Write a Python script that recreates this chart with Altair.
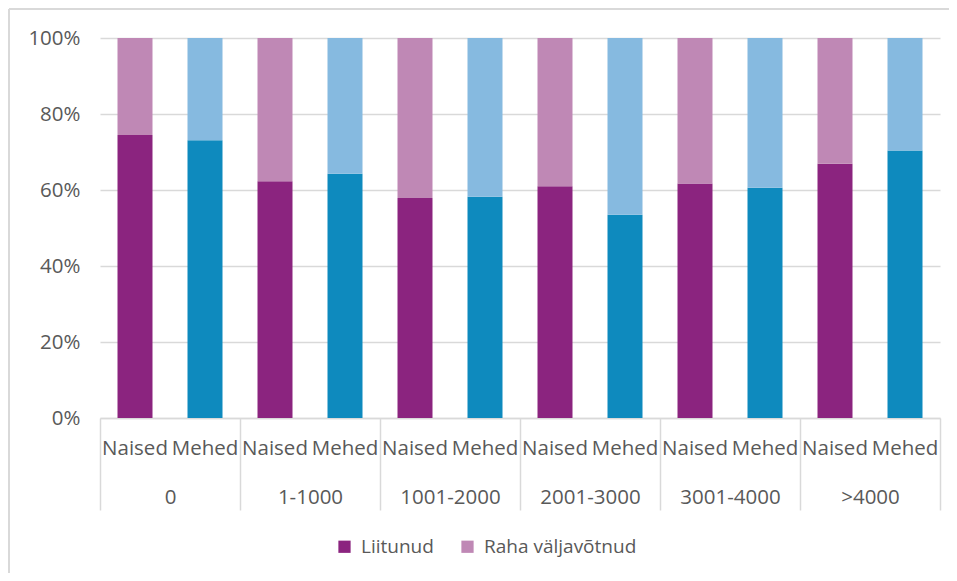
import altair as alt
import pandas as pd

groups = ["0", "1-1000", "1001-2000", "2001-3000", "3001-4000", ">4000"]
sexes = ["Naised", "Mehed"]
statuses = ["Liitunud", "Raha väljavõtnud"]

# share of "Liitunud" (%) per group
liitunud_naised = [74.5, 62.3, 57.9, 61.0, 61.7, 66.9]
liitunud_mehed = [73.1, 64.3, 58.2, 53.5, 60.6, 70.4]

colors = {
    "Naised|Liitunud": "#8B247F",
    "Naised|Raha väljavõtnud": "#BF88B5",
    "Mehed|Liitunud": "#0E8ABE",
    "Mehed|Raha väljavõtnud": "#86BAE0",
}

rows = []
for g, n, m in zip(groups, liitunud_naised, liitunud_mehed):
    rows.append({"group": g, "sex": "Naised", "Liitunud": n, "Raha väljavõtnud": 100 - n})
    rows.append({"group": g, "sex": "Mehed", "Liitunud": m, "Raha väljavõtnud": 100 - m})
df = pd.DataFrame(rows)

FONT = "Open Sans"
GRAY = "#595959"
LINE = "#D9D9D9"
FS = 20.5

x_enc = alt.X(
    "group:N",
    sort=groups,
    scale=alt.Scale(paddingInner=0, paddingOuter=0),
    axis=alt.Axis(
        title=None,
        labelAngle=0,
        labelFont=FONT,
        labelFontSize=FS,
        labelColor=GRAY,
        labelPadding=-23,
        tickBand="extent",
        tickSize=92,
        tickColor=LINE,
        tickWidth=1.5,
        domainColor=LINE,
        domainWidth=1.5,
        grid=False,
    ),
)
xoff_enc = alt.XOffset("sex:N", sort=sexes, scale=alt.Scale(paddingInner=0.5, paddingOuter=0.25))

bars = (
    alt.Chart(df)
    .transform_fold(statuses, as_=["status", "value"])
    .transform_calculate(key="datum.sex + '|' + datum.status",
                         ord="datum.status == 'Liitunud' ? 0 : 1")
    .mark_bar()
    .encode(
        x=x_enc,
        xOffset=xoff_enc,
        y=alt.Y(
            "value:Q",
            stack="zero",
            scale=alt.Scale(domain=[0, 100], nice=False),
            axis=alt.Axis(
                title=None,
                values=[0, 20, 40, 60, 80, 100],
                labelExpr="datum.value + '%'",
                labelFont=FONT,
                labelFontSize=FS,
                labelColor=GRAY,
                labelPadding=20,
                ticks=False,
                domain=False,
                gridColor=LINE,
                gridWidth=1.5,
            ),
        ),
        color=alt.Color(
            "key:N",
            scale=alt.Scale(domain=list(colors.keys()), range=list(colors.values())),
            legend=alt.Legend(
                title=None,
                values=["Naised|Liitunud", "Naised|Raha väljavõtnud"],
                labelExpr="split(datum.label, '|')[1]",
                orient="none",
                direction="horizontal",
                legendX=235,
                legendY=499,
                symbolType="square",
                symbolSize=150,
                symbolStrokeWidth=0,
                labelFont=FONT,
                labelFontSize=19,
                labelColor=GRAY,
                columnPadding=24,
                labelOffset=7,
            ),
        ),
        order=alt.Order("ord:Q"),
    )
)

labels = (
    alt.Chart(df)
    .mark_text(font=FONT, fontSize=FS, color=GRAY, baseline="middle", align="center")
    .encode(x=x_enc, xOffset=xoff_enc, y=alt.value(411), text="sex:N")
)

# chart frame (top and left edges visible in the reference)
frame_df = pd.DataFrame({"edge": ["top"]})
frame_top = (
    alt.Chart(frame_df)
    .mark_rule(color=LINE, strokeWidth=2)
    .encode(x=alt.value(-91), x2=alt.value(849), y=alt.value(-29))
)
frame_left = (
    alt.Chart(frame_df)
    .mark_rule(color=LINE, strokeWidth=2)
    .encode(x=alt.value(-91), y=alt.value(-29), y2=alt.value(535))
)

chart = (
    alt.layer(bars, labels, frame_top, frame_left)
    .properties(
        width=840,
        height=380,
        autosize=alt.AutoSizeParams(type="none"),
        padding={"left": 92, "top": 30, "right": 9, "bottom": 155},
    )
    .configure_view(stroke=None)
)

chart.save("out.html", embed_options={"renderer": "svg", "actions": False})
